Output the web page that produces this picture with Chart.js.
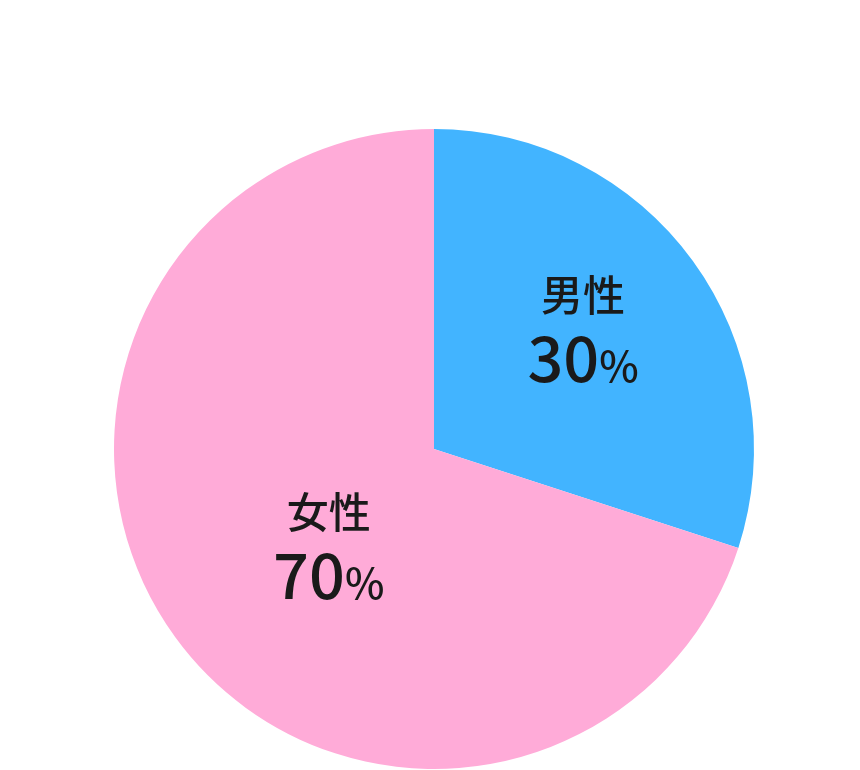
<!DOCTYPE html>
<html>
<head>
<meta charset="utf-8">
<script src="https://cdn.jsdelivr.net/npm/chart.js@4"></script>
<style>
  html, body { margin: 0; padding: 0; background: #fff; }
  #wrap { width: 860px; height: 770px; }
</style>
</head>
<body>
<div id="wrap"><canvas id="genderChart"></canvas></div>
<script>
const categories = ["男性", "女性"];
const shares = [30, 70];
const sliceColors = ["#42B4FF", "#FFABD8"];

// where each label block sits inside its slice (fraction of radius, angle shift in degrees)
const labelRadius = [0.596, 0.45];
const labelAngleShift = [-2.6, -7];

const sliceLabels = {
    id: "sliceLabels",
    afterDatasetsDraw(chart) {
        const ctx = chart.ctx;
        const meta = chart.getDatasetMeta(0);
        meta.data.forEach((arc, i) => {
            const p = arc.getProps(["x", "y", "startAngle", "endAngle", "outerRadius"], true);
            const mid = (p.startAngle + p.endAngle) / 2 + labelAngleShift[i] * Math.PI / 180;
            const r = p.outerRadius * labelRadius[i];
            const cx = p.x + Math.cos(mid) * r;
            const cy = p.y + Math.sin(mid) * r;

            ctx.save();
            ctx.fillStyle = "#1a1a1a";
            ctx.textAlign = "center";
            ctx.textBaseline = "middle";
            ctx.font = '500 42px "Noto Sans CJK JP"';
            ctx.fillText(categories[i], cx, cy - 35);

            // number big, percent sign smaller, centred together
            const num = String(shares[i]);
            ctx.textBaseline = "alphabetic";
            const bigFont = '500 63px "Noto Sans CJK JP"';
            const smallFont = '500 42px "Noto Sans CJK JP"';
            ctx.font = bigFont;
            const wNum = ctx.measureText(num).width;
            ctx.font = smallFont;
            const wPct = ctx.measureText("%").width;
            const left = cx - (wNum + wPct) / 2;
            ctx.textAlign = "left";
            ctx.font = bigFont;
            ctx.fillText(num, left, cy + 52);
            ctx.font = smallFont;
            ctx.fillText("%", left + wNum, cy + 52);
            ctx.restore();
        });
    }
};

new Chart(document.getElementById("genderChart").getContext("2d"), {
    type: "pie",
    data: {
        labels: categories,
        datasets: [{
            data: shares,
            backgroundColor: sliceColors,
            borderWidth: 0
        }]
    },
    options: {
        responsive: true,
        maintainAspectRatio: false,
        animation: false,
        layout: { padding: { left: 114, right: 106, top: 129, bottom: 1 } },
        plugins: {
            legend: { display: false },
            tooltip: { enabled: false }
        }
    },
    plugins: [sliceLabels]
});
</script>
</body>
</html>
